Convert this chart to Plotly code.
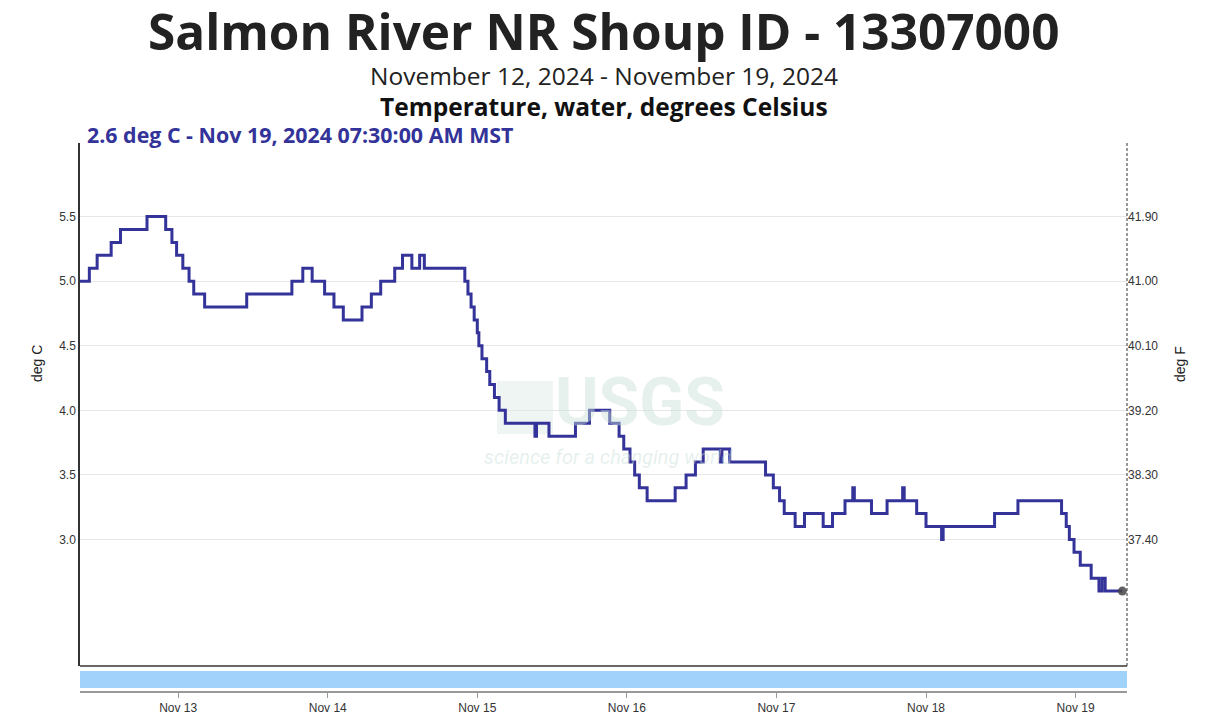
import plotly.graph_objects as go

# Change points of the 15-minute water-temperature record (step series)
times = [
    "2024-11-12 07:30", "2024-11-12 09:45", "2024-11-12 11:00", "2024-11-12 13:15",
    "2024-11-12 14:45", "2024-11-12 19:00", "2024-11-12 22:00", "2024-11-12 23:00",
    "2024-11-12 23:45", "2024-11-13 00:45", "2024-11-13 01:45", "2024-11-13 02:30",
    "2024-11-13 04:15", "2024-11-13 11:00", "2024-11-13 18:15", "2024-11-13 20:00",
    "2024-11-13 21:30", "2024-11-13 23:30", "2024-11-14 01:00", "2024-11-14 02:30",
    "2024-11-14 05:30", "2024-11-14 07:00", "2024-11-14 08:30", "2024-11-14 10:45",
    "2024-11-14 12:00", "2024-11-14 13:30", "2024-11-14 14:45", "2024-11-14 15:30",
    "2024-11-14 22:00", "2024-11-14 22:30", "2024-11-14 23:00", "2024-11-14 23:30",
    "2024-11-15 00:00", "2024-11-15 00:15", "2024-11-15 00:45", "2024-11-15 01:30",
    "2024-11-15 02:00", "2024-11-15 02:45", "2024-11-15 03:30", "2024-11-15 04:30",
    "2024-11-15 09:15", "2024-11-15 09:30", "2024-11-15 11:30", "2024-11-15 15:45",
    "2024-11-15 18:00", "2024-11-15 21:15", "2024-11-15 22:45", "2024-11-15 23:30",
    "2024-11-16 00:30", "2024-11-16 01:15", "2024-11-16 02:00", "2024-11-16 03:15",
    "2024-11-16 07:45", "2024-11-16 09:30", "2024-11-16 11:00", "2024-11-16 12:15",
    "2024-11-16 15:00", "2024-11-16 15:15", "2024-11-16 16:30", "2024-11-16 22:15",
    "2024-11-16 23:30", "2024-11-17 00:30", "2024-11-17 01:15", "2024-11-17 03:00",
    "2024-11-17 04:30", "2024-11-17 07:30", "2024-11-17 09:00", "2024-11-17 11:00",
    "2024-11-17 12:15", "2024-11-17 12:30", "2024-11-17 15:15", "2024-11-17 17:45",
    "2024-11-17 20:15", "2024-11-17 20:30", "2024-11-17 22:30", "2024-11-18 00:00",
    "2024-11-18 02:30", "2024-11-18 02:45", "2024-11-18 11:00", "2024-11-18 14:45",
    "2024-11-18 21:45", "2024-11-18 22:30", "2024-11-18 23:00", "2024-11-18 23:45",
    "2024-11-19 00:45", "2024-11-19 02:30", "2024-11-19 03:45", "2024-11-19 04:15",
    "2024-11-19 04:45", "2024-11-19 07:30",
]
temps_c = [
    5.0, 5.1, 5.2, 5.3,
    5.4, 5.5, 5.4, 5.3,
    5.2, 5.1, 5.0, 4.9,
    4.8, 4.9, 5.0, 5.1,
    5.0, 4.9, 4.8, 4.7,
    4.8, 4.9, 5.0, 5.1,
    5.2, 5.1, 5.2, 5.1,
    5.0, 4.9, 4.8, 4.7,
    4.6, 4.5, 4.4, 4.3,
    4.2, 4.1, 4.0, 3.9,
    3.8, 3.9, 3.8, 3.9,
    4.0, 3.9, 3.8, 3.7,
    3.6, 3.5, 3.4, 3.3,
    3.4, 3.5, 3.6, 3.7,
    3.6, 3.7, 3.6, 3.5,
    3.4, 3.3, 3.2, 3.1,
    3.2, 3.1, 3.2, 3.3,
    3.4, 3.3, 3.2, 3.3,
    3.4, 3.3, 3.2, 3.1,
    3.0, 3.1, 3.2, 3.3,
    3.2, 3.1, 3.0, 2.9,
    2.8, 2.7, 2.6, 2.7,
    2.6, 2.6,
]

c_ticks = [3.0, 3.5, 4.0, 4.5, 5.0, 5.5]
x_tick_vals = ["2024-11-13", "2024-11-14", "2024-11-15", "2024-11-16",
               "2024-11-17", "2024-11-18", "2024-11-19"]
x_tick_text = ["Nov 13", "Nov 14", "Nov 15", "Nov 16", "Nov 17", "Nov 18", "Nov 19"]

title = "Salmon River NR Shoup ID - 13307000"
subtitle = "November 12, 2024 - November 19, 2024"
param = "Temperature, water, degrees Celsius"
latest = "2.6 deg C - Nov 19, 2024 07:30:00 AM MST"

c_range = [2.02, 6.07]
x_range = ["2024-11-12 08:15", "2024-11-19 08:15"]


def c_to_f(c):
    return c * 1.8 + 32


LINE = "#333399"
TICKFONT = dict(family="Liberation Sans, Arial", size=12, color="#333")
WM = "rgba(200,222,216,0.45)"

fig = go.Figure()
fig.add_trace(go.Scatter(
    x=times, y=temps_c, mode="lines", line=dict(color=LINE, width=3, shape="hv"),
    showlegend=False, hoverinfo="skip"))
fig.add_trace(go.Scatter(
    x=[times[-1]], y=[temps_c[-1]], mode="markers",
    marker=dict(color="rgba(70,70,70,0.85)", size=9),
    showlegend=False, hoverinfo="skip"))
# invisible trace for the Fahrenheit axis
fig.add_trace(go.Scatter(
    x=[times[-1]], y=[c_to_f(temps_c[-1])], yaxis="y2", mode="markers",
    marker=dict(opacity=0), showlegend=False, hoverinfo="skip"))

PH = 549  # paper height in pixels (top 143 .. bottom 692)
dom0 = 26 / PH

fig.update_layout(
    width=1218, height=721,
    margin=dict(l=80, r=91, t=143, b=29, autoexpand=False),
    paper_bgcolor="white", plot_bgcolor="white",
    xaxis=dict(
        type="date", range=x_range, anchor="free", position=0, automargin=False,
        tickvals=x_tick_vals, ticktext=x_tick_text, tickfont=TICKFONT,
        showgrid=False, zeroline=False,
        showline=True, linecolor="#999", linewidth=2,
        ticks="outside", ticklen=5, tickcolor="#999", tickwidth=1,
    ),
    yaxis=dict(
        domain=[dom0, 1], range=c_range, tickvals=c_ticks, automargin=False,
        tickformat=".1f", tickfont=TICKFONT,
        showgrid=True, gridcolor="#e6e6e6", gridwidth=1, zeroline=False,
        showline=True, linecolor="#333", linewidth=1.5, ticks="",
    ),
    yaxis2=dict(
        overlaying="y", side="right", range=[c_to_f(v) for v in c_range],
        automargin=False,
        tickvals=[c_to_f(v) for v in c_ticks],
        ticktext=["%.2f" % c_to_f(v) for v in c_ticks], tickfont=TICKFONT,
        showgrid=False, zeroline=False, showline=False, ticks="",
    ),
)


def py(ypix):
    return (692 - ypix) / PH


def px(xpix):
    return (xpix - 80) / 1047


# light blue strip below the plot, bottom frame line and dashed right border
fig.add_shape(type="rect", xref="paper", yref="paper", x0=0, x1=1,
              y0=py(688), y1=py(671), fillcolor="#a1d2fb", line=dict(width=0),
              layer="below")
fig.add_shape(type="line", xref="paper", yref="paper", x0=0, x1=1,
              y0=dom0, y1=dom0, line=dict(color="#333", width=1.5))
fig.add_shape(type="line", xref="paper", yref="paper", x0=1, x1=1,
              y0=dom0, y1=1, line=dict(color="#333", width=1, dash="3px,2px"))
# faint logo square of the watermark
fig.add_shape(type="rect", xref="paper", yref="paper", x0=px(497), x1=px(553),
              y0=py(434), y1=py(381), fillcolor="rgba(200,222,216,0.3)",
              line=dict(width=0), layer="below")

ann = [
    dict(text="<b>" + title + "</b>", x=0.5, y=py(31), xref="paper", yref="paper",
         font=dict(family="Open Sans", size=49.5, color="#222")),
    dict(text=subtitle, x=0.5, y=py(75), xref="paper", yref="paper",
         font=dict(family="Open Sans", size=24.5, color="#222", weight=400)),
    dict(text="<b>" + param + "</b>", x=0.5, y=py(106), xref="paper", yref="paper",
         font=dict(family="Open Sans", size=24.5, color="#111")),
    dict(text="<b>" + latest + "</b>", x=px(85), y=py(135), xref="paper", yref="paper",
         xanchor="left", font=dict(family="Open Sans", size=21.4, color=LINE)),
    dict(text="deg C", x=px(37), y=py(364), xref="paper", yref="paper", textangle=-90,
         font=dict(family="Liberation Sans, Arial", size=14, color="#222")),
    dict(text="deg F", x=px(1180), y=py(364), xref="paper", yref="paper", textangle=-90,
         font=dict(family="Liberation Sans, Arial", size=14, color="#222")),
    # USGS watermark
    dict(text="<b>USGS</b>", x=px(640), y=py(443), xref="paper", yref="paper",
         yanchor="bottom",
         font=dict(family="Roboto", size=66, color=WM)),
    dict(text="<i>science for a changing world</i>", x=px(608), y=py(443),
         xref="paper", yref="paper", yanchor="top",
         font=dict(family="Roboto", size=20, color=WM)),
]
for a in ann:
    a.setdefault("showarrow", False)
    a.setdefault("xanchor", "center")
    a.setdefault("yanchor", "middle")
fig.update_layout(annotations=ann)

fig.write_html("out.html")
